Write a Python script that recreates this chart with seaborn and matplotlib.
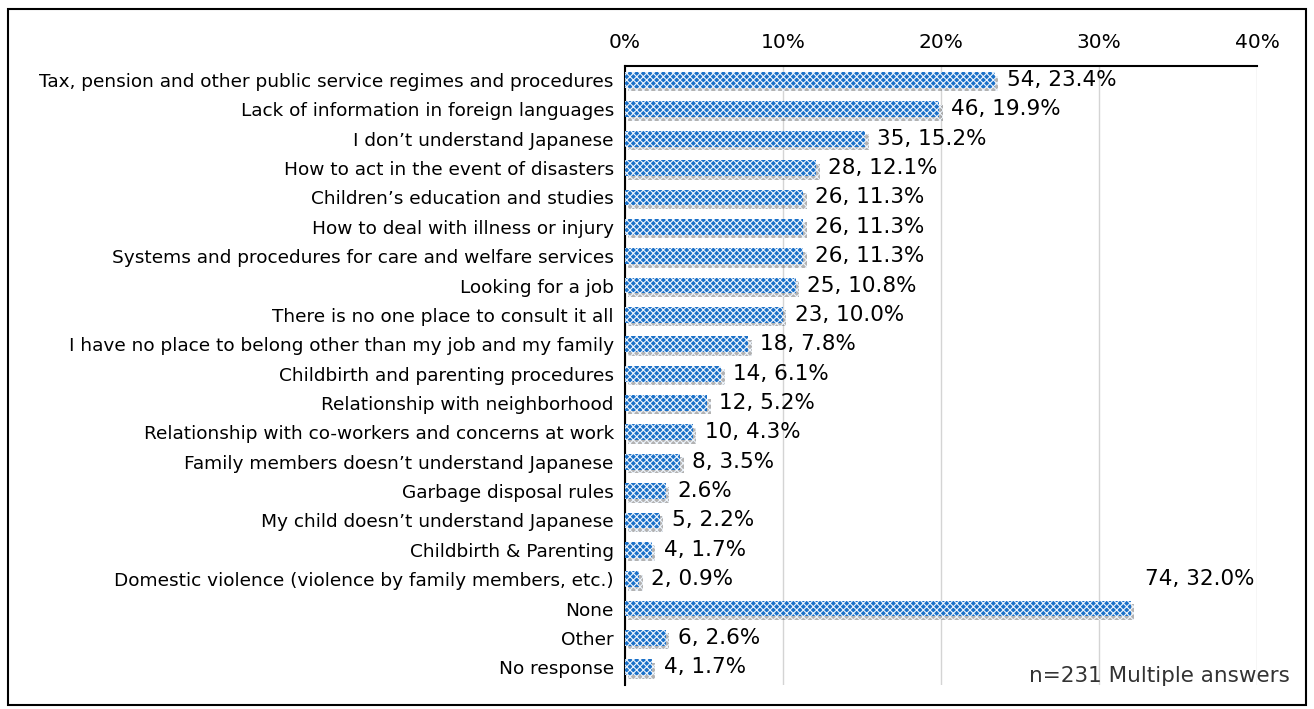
import matplotlib
matplotlib.use("Agg")
import matplotlib.pyplot as plt
import matplotlib.patheffects as pe
from matplotlib.patches import Rectangle
import pandas as pd
import seaborn as sns

categories = [
    "Tax, pension and other public service regimes and procedures",
    "Lack of information in foreign languages",
    "I don\u2019t understand Japanese",
    "How to act in the event of disasters",
    "Children\u2019s education and studies",
    "How to deal with illness or injury",
    "Systems and procedures for care and welfare services",
    "Looking for a job",
    "There is no one place to consult it all",
    "I have no place to belong other than my job and my family",
    "Childbirth and parenting procedures",
    "Relationship with neighborhood",
    "Relationship with co-workers and concerns at work",
    "Family members doesn\u2019t understand Japanese",
    "Garbage disposal rules",
    "My child doesn\u2019t understand Japanese",
    "Childbirth & Parenting",
    "Domestic violence (violence by family members, etc.)",
    "None",
    "Other",
    "No response",
]
counts = [54, 46, 35, 28, 26, 26, 26, 25, 23, 18, 14, 12, 10, 8, 6, 5, 4, 2, 74, 6, 4]
percents = [23.4, 19.9, 15.2, 12.1, 11.3, 11.3, 11.3, 10.8, 10.0, 7.8, 6.1, 5.2,
            4.3, 3.5, 2.6, 2.2, 1.7, 0.9, 32.0, 2.6, 1.7]
x_ticks = [0, 10, 20, 30, 40]
note = "n=231 Multiple answers"

sns.set_theme(style="white")
plt.rcParams["font.family"] = ["DejaVu Sans"]
plt.rcParams["text.color"] = "black"
plt.rcParams["hatch.linewidth"] = 0.8

df = pd.DataFrame({"category": categories, "percent": percents, "count": counts})

fig = plt.figure(figsize=(13.14, 7.09), dpi=100)
ax = fig.add_axes([0.4756, 0.034, 0.4810, 0.873])

sns.barplot(data=df, x="percent", y="category", color="#1a70c8", width=0.54,
            saturation=1, ax=ax, zorder=3)

# dotted bar texture with a soft drop shadow
for bar in ax.patches:
    bar.set_hatch("xxxxx")
    bar.set_edgecolor("#eef5fd")
    bar.set_linewidth(0)
    bar.set_path_effects([pe.SimplePatchShadow(offset=(2.5, -2.5), shadow_rgbFace="#555555",
                                               alpha=0.45),
                          pe.Normal()])

ax.set_xlim(0, 40)
ax.set_ylim(20.6, -0.48)
ax.set_xticks(x_ticks)
ax.set_xticklabels([f"{t}%" for t in x_ticks], fontsize=14.5)
ax.xaxis.tick_top()
ax.tick_params(axis="x", length=0, pad=10, colors="black")
ax.tick_params(axis="y", length=0, pad=8, labelsize=13.3, colors="black")
ax.set_xlabel("")
ax.set_ylabel("")
ax.grid(axis="x", color="#d4d4d4", linewidth=1, zorder=0)

for side in ["right", "bottom"]:
    ax.spines[side].set_visible(False)
ax.spines["left"].set_color("black")
ax.spines["left"].set_linewidth(1.5)
ax.spines["top"].set_color("black")
ax.spines["top"].set_linewidth(1.5)

for i, (c, p) in enumerate(zip(counts, percents)):
    label = f"{c}, {p:.1f}%"
    if categories[i] == "Garbage disposal rules":
        label = f"{p:.1f}%"
    if categories[i] == "None":
        ax.text(p + 0.9, i - 1, label, va="center", ha="left", fontsize=15.5)
    else:
        ax.text(p + 0.75, i, label, va="center", ha="left", fontsize=15.5)

fig.text(0.982, 0.046, note, ha="right", va="center", fontsize=15.5, color="#333333")

fig.patches.append(Rectangle((0.006, 0.006), 0.988, 0.982, transform=fig.transFigure,
                             fill=False, edgecolor="black", linewidth=1.5))

fig.savefig("out.png", dpi=100)
